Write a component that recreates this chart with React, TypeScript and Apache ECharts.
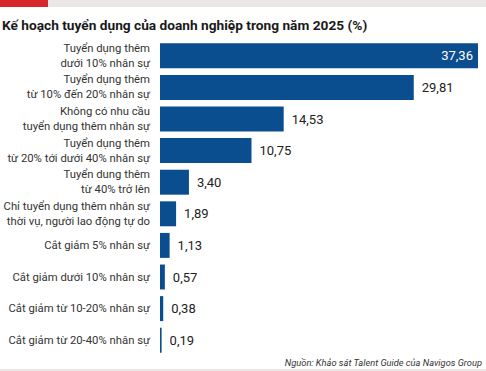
import React, { useEffect, useRef } from "react";
import * as echarts from "echarts";

const categories = [
  "Tuyển dụng thêm\ndưới 10% nhân sự",
  "Tuyển dụng thêm\ntừ 10% đến 20% nhân sự",
  "Không có nhu cầu\ntuyển dụng thêm nhân sự",
  "Tuyển dụng thêm\ntừ 20% tới dưới 40% nhân sự",
  "Tuyển dung thêm\ntừ 40% trở lên",
  "Chỉ tuyển dụng thêm nhân sự\nthời vụ, người lao động tự do",
  "Cắt giảm 5% nhân sự",
  "Cắt giảm dưới 10% nhân sự",
  "Cắt giảm từ 10-20% nhân sự",
  "Cắt giảm từ 20-40% nhân sự",
];
const values = [37.36, 29.81, 14.53, 10.75, 3.4, 1.89, 1.13, 0.57, 0.38, 0.19];
const title = "Kế hoạch tuyển dụng của doanh nghiệp trong năm 2025 (%)";
const source = "Nguồn: Khảo sát Talent Guide của Navigos Group";

const fmt = (v: number) => v.toFixed(2).replace(".", ",");

export default function App() {
  const ref = useRef<HTMLDivElement>(null);
  useEffect(() => {
    document.body.style.margin = "0";
    const chart = echarts.init(ref.current!, null, { renderer: "svg" });
    const font = "Roboto, 'Noto Sans', sans-serif";
    chart.setOption({
      animation: false,
      backgroundColor: "#ffffff",
      grid: {
        left: 160,
        top: 40,
        width: 318,
        height: 316,
        containLabel: false,
        outerBoundsMode: "none",
      },
      xAxis: { type: "value", min: 0, max: 37.36, show: false },
      yAxis: {
        type: "category",
        data: categories,
        inverse: true,
        axisLine: { show: false },
        axisTick: { show: false },
        axisLabel: {
          margin: 10,
          fontFamily: font,
          fontSize: 11.3,
          lineHeight: 15,
          color: "#333333",
          align: "right",
        },
      },
      series: [
        {
          type: "bar",
          data: values.map((v, i) =>
            i === 0
              ? {
                  value: v,
                  label: { position: "insideRight", color: "#ffffff", distance: 5 },
                }
              : v
          ),
          barCategoryGap: "21%",
          itemStyle: { color: "#0b4e8f" },
          label: {
            show: true,
            position: "right",
            distance: 8,
            fontFamily: font,
            fontSize: 13,
            color: "#222222",
            formatter: (p: any) => fmt(p.value),
          },
        },
      ],
      graphic: [
        { type: "rect", shape: { x: 0, y: 0, width: 486, height: 7 }, style: { fill: "#ebe7e7" } },
        { type: "rect", shape: { x: 0, y: 0, width: 48, height: 7 }, style: { fill: "#d7262c" } },
        {
          type: "text",
          x: 2,
          y: 25,
          style: {
            text: title,
            fontFamily: font,
            fontSize: 13.7,
            fontWeight: "bold",
            fill: "#1a1a1a",
            textVerticalAlign: "middle",
          },
        },
        {
          type: "text",
          x: 482,
          y: 362,
          style: {
            text: source,
            fontFamily: font,
            fontSize: 9.3,
            fontStyle: "italic",
            fill: "#333333",
            textAlign: "right",
            textVerticalAlign: "middle",
          },
        },
        { type: "rect", shape: { x: 0, y: 369, width: 486, height: 2 }, style: { fill: "#ebe7e7" } },
      ],
    });
    return () => chart.dispose();
  }, []);
  return (
    <div
      ref={ref}
      style={{ position: "absolute", left: 0, top: 0, width: 486, height: 371 }}
    />
  );
}
